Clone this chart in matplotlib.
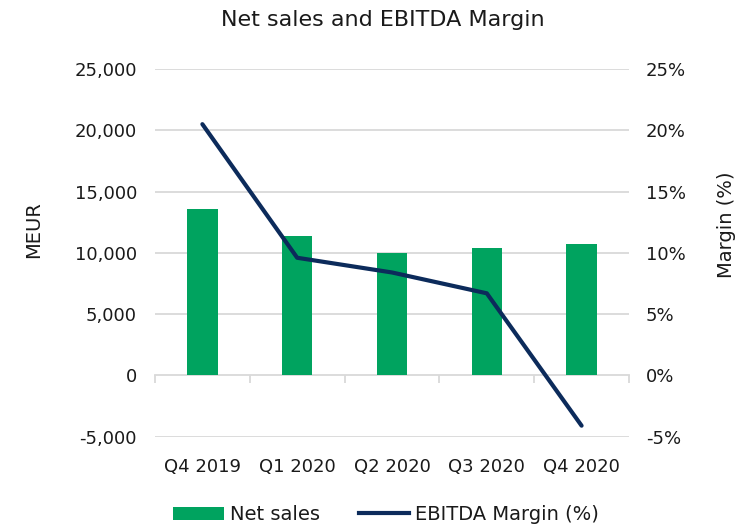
import matplotlib
matplotlib.use("Agg")
import matplotlib.pyplot as plt
from matplotlib.ticker import FuncFormatter, FixedLocator
from matplotlib.patches import Patch
from matplotlib.lines import Line2D
import numpy as np

categories = ["Q4 2019", "Q1 2020", "Q2 2020", "Q3 2020", "Q4 2020"]
net_sales = [13560, 11410, 9950, 10380, 10730]
ebitda_margin = [20.5, 9.6, 8.4, 6.7, -4.1]
left_ticks = [-5000, 0, 5000, 10000, 15000, 20000, 25000]
right_ticks = [-5, 0, 5, 10, 15, 20, 25]

plt.rcParams['font.family'] = ['DejaVu Sans']
fig = plt.figure(figsize=(7.44, 5.28), dpi=100)
ax = fig.add_axes([0.2083, 0.1729, 0.6371, 0.6964])
ax2 = ax.twinx()

bar_color = "#00A35F"
line_color = "#0C2B5B"
grid_color = "#D9D9D9"
txt = "#1a1a1a"

x = np.arange(len(categories))
ax.set_zorder(1)
ax.patch.set_visible(False)
ax2.set_zorder(0)
ax.bar(x, net_sales, width=0.32, color=bar_color, zorder=2)
ax.plot(x, np.array(ebitda_margin) * 1000, color=line_color, lw=3.0, zorder=3,
        solid_capstyle='round', solid_joinstyle='round')

ax.set_xlim(-0.5, len(categories) - 0.5)
ax.set_ylim(-5000, 25000)
ax2.set_ylim(-5, 25)

ax.yaxis.set_major_locator(FixedLocator(left_ticks))
ax.yaxis.set_major_formatter(FuncFormatter(lambda v, p: f"{int(v):,}"))
ax2.yaxis.set_major_locator(FixedLocator(right_ticks))
ax2.yaxis.set_major_formatter(FuncFormatter(lambda v, p: f"{int(v)}%"))

for t in left_ticks:
    if t != 0:
        ax2.axhline(t / 1000, color=grid_color, lw=1.3, zorder=0)

for a in (ax, ax2):
    for s in a.spines.values():
        s.set_visible(False)
ax.spines['bottom'].set_visible(True)
ax.spines['bottom'].set_position(('data', 0))
ax.spines['bottom'].set_color(grid_color)
ax.spines['bottom'].set_linewidth(1.3)
ax.spines['bottom'].set_zorder(1)

ax.xaxis.set_major_locator(FixedLocator(list(np.arange(-0.5, len(categories), 1.0))))
ax.tick_params(axis='x', which='major', length=6, width=1.3, color=grid_color,
               labelbottom=False)
sec = ax.secondary_xaxis(0)
sec.set_xticks(x)
sec.set_xticklabels(categories)
sec.tick_params(length=0, pad=15, labelsize=13, labelcolor=txt)
sec.spines['bottom'].set_visible(False)

ax.tick_params(axis='y', length=0, pad=13, labelsize=13, labelcolor=txt)
ax2.tick_params(axis='y', length=0, pad=12, labelsize=13, labelcolor=txt)

ax.set_ylabel("MEUR", fontsize=14, color=txt)
ax.yaxis.set_label_coords(-0.236, 0.5625)
ax2.set_ylabel("Margin (%)", fontsize=14, color=txt)
ax2.yaxis.set_label_coords(1.186, 0.576)

fig.text(0.515, 0.962, "Net sales and EBITDA Margin", ha='center', va='center',
         fontsize=16, color=txt)

handles = [Patch(facecolor=bar_color, edgecolor='none'),
           Line2D([], [], color=line_color, lw=3)]
labels = ["Net sales", "EBITDA Margin (%)"]
fig.legend(handles, labels, loc='center', bbox_to_anchor=(0.519, 0.025), ncol=2,
           frameon=False, fontsize=14, handlelength=2.6, handleheight=0.7,
           columnspacing=2.0, handletextpad=0.3, labelcolor=txt)

fig.savefig("out.png", dpi=100)
